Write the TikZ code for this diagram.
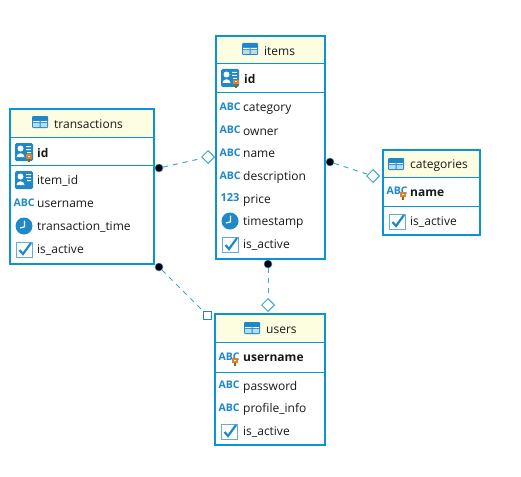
\documentclass[tikz,border=0pt]{standalone}
\usepackage{fontspec}
\setmainfont{Open Sans}
\usetikzlibrary{shapes.geometric}
\definecolor{erblue}{HTML}{0A94D2}
\definecolor{iconblue}{HTML}{1E88C8}
\definecolor{linkblue}{HTML}{3FA4D4}
\definecolor{headfill}{HTML}{FDFDE2}
\definecolor{keyorange}{HTML}{E0802A}
\tikzset{
  x=1pt,y=-1pt,
  tablebox/.style={draw=erblue,line width=2pt,fill=white,rectangle,inner sep=0pt},
  headbox/.style={fill=headfill,draw=none},
  sepline/.style={draw=erblue,line width=1pt},
  coltext/.style={anchor=west,inner sep=0pt,yshift=-1.2pt,font=\fontsize{12}{14}\selectfont,text=black!90},
  keytext/.style={coltext,font=\fontsize{12}{14}\selectfont\bfseries},
  headtext/.style={anchor=west,inner sep=0pt,yshift=-1pt,font=\fontsize{12}{14}\selectfont,text=black!90},
  abcglyph/.style={inner sep=0pt,text=iconblue,font=\fontsize{10.5}{11}\selectfont\bfseries},
  startdot/.style={circle,fill=black,draw=linkblue,line width=.5pt,minimum size=8pt,inner sep=0pt},
  enddiamond/.style={diamond,aspect=1,draw=linkblue,fill=white,line width=1pt,minimum size=13pt,inner sep=0pt},
  endsquare/.style={rectangle,draw=iconblue,fill=white,line width=1pt,minimum size=8pt,inner sep=0pt},
  link/.style={draw=linkblue,line width=1pt,dash pattern=on 5pt off 5pt},
}
% icons: #1 = x, #2 = y of the centre
\newcommand{\icontable}[2]{\begin{scope}[shift={(#1,#2)}]
  \fill[iconblue,rounded corners=1pt] (-8,-6) rectangle (8,6);
  \fill[white] (-7,-1) rectangle (-.5,0.2) (.5,-1) rectangle (7,0.2);
  \fill[white!70!iconblue] (-7,1) rectangle (-.5,5) (.5,1) rectangle (7,5);
\end{scope}}
\newcommand{\iconcard}[2]{\begin{scope}[shift={(#1,#2)}]
  \fill[iconblue,rounded corners=1.5pt] (-9,-9) rectangle (9,9);
  \fill[white] (-3.5,-3.5) circle (3);
  \fill[white] (-7.5,5) .. controls (-7,0) and (0,0) .. (.5,5) -- cycle;
  \fill[white] (2,-6) rectangle (7,-5) (2,-3) rectangle (7,-2) (3,0) rectangle (7,1);
\end{scope}}
\newcommand{\iconkey}[2]{\begin{scope}[shift={(#1,#2)}]
  \fill[keyorange] (-3,-3) rectangle (3,1.5);
  \fill[white] (-1,-1.5) rectangle (1,-.5);
  \fill[keyorange!70!black] (-1,1.5) rectangle (1,5);
\end{scope}}
\newcommand{\iconabc}[2]{\node[abcglyph] at (#1,#2) {ABC};}
\newcommand{\iconnum}[2]{\node[abcglyph,font=\fontsize{11}{11}\selectfont\bfseries] at (#1,#2) {123};}
\newcommand{\iconclock}[2]{\begin{scope}[shift={(#1,#2)}]
  \fill[iconblue] (0,0) circle (8.5);
  \draw[white,line width=1.2pt] (.5,-5.5) -- (.5,.8) -- (-4,2);
\end{scope}}
\newcommand{\iconcheck}[2]{\begin{scope}[shift={(#1,#2)}]
  \draw[iconblue!70,line width=1pt,fill=white] (-8,-7) rectangle (8,8);
  \draw[iconblue,line width=2.2pt] (-4.5,1) -- (-1,5) -- (7,-6);
\end{scope}}
\begin{document}
\begin{tikzpicture}
\useasboundingbox (0,0) rectangle (521,476);
\fill[white] (0,0) rectangle (521,476);

% items
\node[tablebox,minimum width=109pt,minimum height=223pt] (items) at (270.5,147.5) {};
\fill[headbox] (217,37) rectangle (324,63);
\draw[sepline] (216,63.5) -- (325,63.5) (216,92.5) -- (325,92.5);
\icontable{250}{49}
\node[headtext] (itemsT) at (264,50) {items};
\iconcard{230}{78}\iconkey{236}{83}
\node[keytext] (itemsA) at (244,78) {id};
\iconabc{230}{107}\node[coltext] (itemsB) at (243,108) {category};
\iconabc{230}{130}\node[coltext] (itemsC) at (243,131) {owner};
\iconabc{230}{153}\node[coltext] (itemsD) at (243,153) {name};
\iconabc{230}{176}\node[coltext] (itemsE) at (243,176) {description};
\iconnum{230}{198}\node[coltext] (itemsF) at (243,199) {price};
\iconclock{230}{221}\node[coltext] (itemsG) at (243,221) {timestamp};
\iconcheck{230}{244}\node[coltext] (itemsH) at (243,244) {is\_active};

% transactions
\node[tablebox,minimum width=144pt,minimum height=155pt] (trans) at (82,186.5) {};
\fill[headbox] (11,110) rectangle (153,137);
\draw[sepline] (10,137.5) -- (154,137.5) (10,165.5) -- (154,165.5);
\icontable{40}{122}
\node[headtext] (transT) at (54,123) {transactions};
\iconcard{24}{152}\iconkey{29}{157}
\node[keytext] (transA) at (37,152) {id};
\iconcard{24}{180}\node[coltext] (transB) at (37,180) {item\_id};
\iconabc{24}{203}\node[coltext] (transC) at (37,203) {username};
\iconclock{24}{226}\node[coltext] (transD) at (37,226) {transaction\_time};
\iconcheck{24}{249}\node[coltext] (transE) at (37,249) {is\_active};

% categories
\node[tablebox,minimum width=97pt,minimum height=85pt] (cats) at (431.5,192.5) {};
\fill[headbox] (384,151) rectangle (479,177);
\draw[sepline] (383,177.5) -- (480,177.5) (383,206.5) -- (480,206.5);
\icontable{396}{164}
\node[headtext] (catsT) at (410,165) {categories};
\iconabc{397}{191}\iconkey{403}{195}
\node[keytext] (catsA) at (410,192) {name};
\iconcheck{397}{221}\node[coltext] (catsB) at (410,221) {is\_active};

% users
\node[tablebox,minimum width=110pt,minimum height=131pt] (users) at (270,379.5) {};
\fill[headbox] (216,315) rectangle (324,342);
\draw[sepline] (215,342.5) -- (325,342.5) (215,372.5) -- (325,372.5);
\icontable{252}{328}
\node[headtext] (usersT) at (266,329) {users};
\iconabc{229}{357}\iconkey{235}{361}
\node[keytext] (usersA) at (243,357) {username};
\iconabc{229}{385}\node[coltext] (usersB) at (243,386) {password};
\iconabc{229}{408}\node[coltext] (usersC) at (243,408) {profile\_info};
\iconcheck{229}{431}\node[coltext] (usersD) at (243,431) {is\_active};

% connector ends
\node[startdot] (d1) at (159,168) {};
\node[enddiamond] (e1) at (208,157) {};
\node[startdot] (d2) at (330,162) {};
\node[enddiamond] (e2) at (373,176) {};
\node[startdot] (d3) at (159,267) {};
\node[endsquare] (e3) at (207.5,315.5) {};
\node[startdot] (d4) at (268,264) {};
\node[enddiamond] (e4) at (268,305) {};
\draw[link] (d1) -- (e1);
\draw[link] (d2) -- (e2);
\draw[link] (d3) -- (e3);
\draw[link] (d4) -- (e4);
\end{tikzpicture}
\end{document}
